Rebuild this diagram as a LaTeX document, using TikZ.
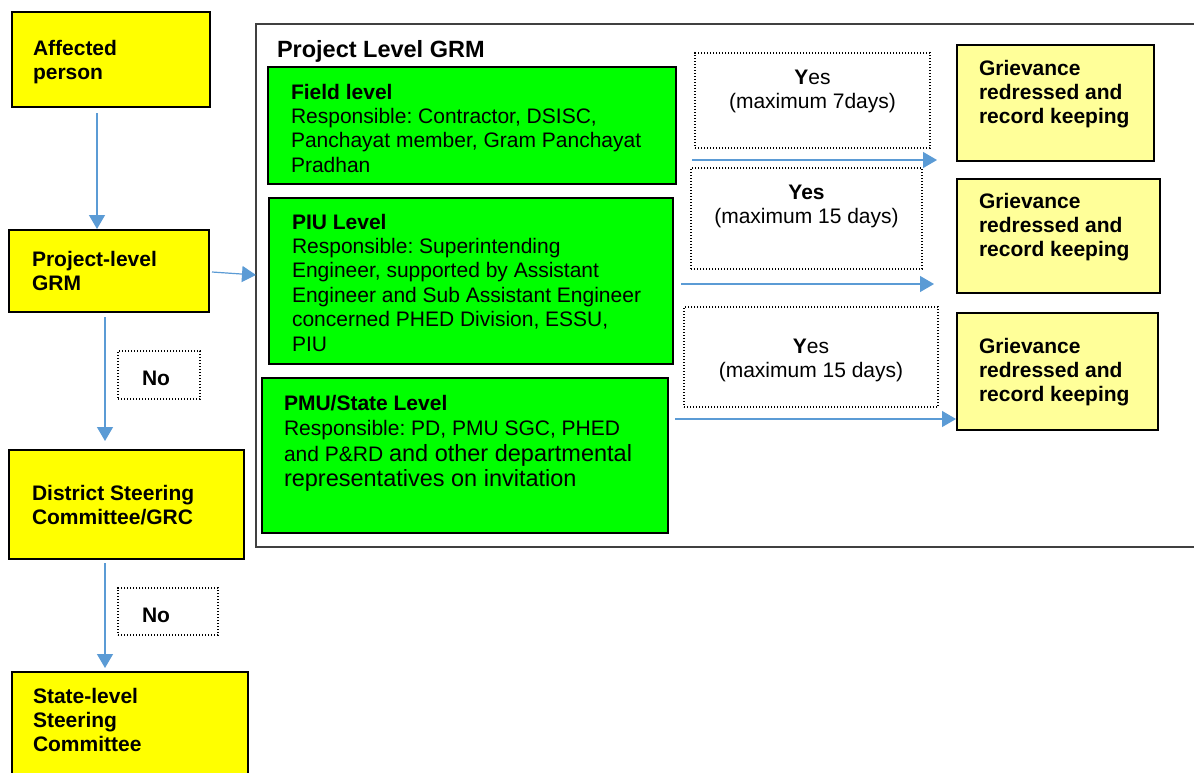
\documentclass[tikz,border=0pt]{standalone}
\usepackage{fontspec}
\setmainfont{Liberation Sans}
\usetikzlibrary{arrows.meta}
\definecolor{boxyellow}{RGB}{255,255,0}
\definecolor{boxgreen}{RGB}{0,255,0}
\definecolor{paleyellow}{RGB}{255,255,153}
\definecolor{arrowblue}{RGB}{91,155,213}
\newcommand\linesL[1]{\vtop{\halign{##\hfil\cr#1\crcr}}}
\newcommand\linesC[1]{\vtop{\halign{\hfil##\hfil\cr#1\crcr}}}
\frenchspacing
\begin{document}
\begin{tikzpicture}[x=1pt,y=-1pt,
  every node/.style={inner sep=0pt, outer sep=0pt},
  boxbase/.style={draw=black, line width=1.8pt, anchor=north west, rectangle},
  ybox/.style={boxbase, fill=boxyellow},
  gbox/.style={boxbase, fill=boxgreen},
  pbox/.style={boxbase, fill=paleyellow},
  dbox/.style={draw=black, line width=1.2pt, dash pattern=on 1.2pt off 1.8pt, anchor=north west, rectangle},
  frame/.style={draw=black!75, line width=1.5pt, anchor=north west, rectangle},
  txt/.style={anchor=base west, font=\fontsize{21}{24.4}\selectfont},
  ctxt/.style={anchor=base, font=\fontsize{21}{24.4}\selectfont},
  arr/.style={draw=arrowblue, line width=1.2pt, -{Triangle[length=14pt,width=16pt]}},
]
\fill[white] (0,0) rectangle (1194,772);
\useasboundingbox (0,0) rectangle (1194,772);

% container
\node[frame, minimum width=950pt, minimum height=523pt] (prj) at (256,24) {};
\node[txt, font=\fontsize{23.5}{26}\selectfont\bfseries] (prjt) at (277,57) {Project Level GRM};

% left column
\node[ybox, minimum width=198pt, minimum height=95pt] (ap) at (12,12) {};
\node[txt] (apt) at (33,55) {\linesL{\textbf{Affected}\cr\textbf{person}}};
\node[ybox, minimum width=200pt, minimum height=82pt] (pg) at (9,230) {};
\node[txt] (pgt) at (32,266) {\linesL{\textbf{Project-level}\cr\textbf{GRM}}};
\node[ybox, minimum width=235pt, minimum height=109pt] (ds) at (9,450) {};
\node[txt] (dst) at (32,500) {\linesL{\textbf{District Steering}\cr\textbf{Committee/GRC}}};
\node[ybox, minimum width=236pt, minimum height=130pt] (sl) at (12,672) {};
\node[txt] (slt) at (33,703) {\linesL{\textbf{State-level}\cr\textbf{Steering}\cr\textbf{Committee}}};

\node[dbox, minimum width=82pt, minimum height=48pt] (n1) at (118,351) {};
\node[ctxt] (n1t) at (156,385) {\textbf{No}};
\node[dbox, minimum width=100pt, minimum height=47pt] (n2) at (118,588) {};
\node[ctxt] (n2t) at (156,622) {\textbf{No}};

% green boxes
\node[gbox, minimum width=408pt, minimum height=117pt] (fl) at (268,67) {};
\node[txt] (flt) at (291,99) {\linesL{\textbf{Field level}\cr Responsible: Contractor, DSISC,\cr Panchayat member, Gram Panchayat\cr Pradhan}};
\node[gbox, minimum width=404pt, minimum height=166pt] (piu) at (269,198) {};
\node[txt] (piut) at (292,229) {\linesL{\textbf{PIU Level}\cr Responsible: Superintending\cr Engineer, supported by Assistant\cr Engineer and Sub Assistant Engineer\cr concerned PHED Division, ESSU,\cr PIU}};
\node[gbox, minimum width=406pt, minimum height=155pt] (pmu) at (262,378) {};
\node[txt, font=\fontsize{21}{25.6}\selectfont] (pmut) at (284,410) {\linesL{\textbf{PMU/State Level}\cr Responsible: PD, PMU SGC, PHED\cr and P\&RD {\fontsize{23.5}{26}\selectfont and other departmental}\cr {\fontsize{23.5}{26}\selectfont representatives on invitation}}};

% dotted yes boxes
\node[dbox, minimum width=235pt, minimum height=95pt] (y1) at (695,53) {};
\node[ctxt] (y1t) at (812.5,84) {\linesC{\textbf{Y}es\cr (maximum 7days)}};
\node[dbox, minimum width=231pt, minimum height=101pt] (y2) at (691,168) {};
\node[ctxt] (y2t) at (806.5,199) {\linesC{\textbf{Yes}\cr (maximum 15 days)}};
\node[dbox, minimum width=254pt, minimum height=100pt] (y3) at (684,307) {};
\node[ctxt] (y3t) at (811,353) {\linesC{\textbf{Y}es\cr (maximum 15 days)}};

% grievance boxes
\node[pbox, minimum width=197pt, minimum height=116pt] (g1) at (957,45) {};
\node[txt] (g1t) at (979,75) {\linesL{\textbf{Grievance}\cr\textbf{redressed and}\cr\textbf{record keeping}}};
\node[pbox, minimum width=203pt, minimum height=114pt] (g2) at (957,179) {};
\node[txt] (g2t) at (979,208) {\linesL{\textbf{Grievance}\cr\textbf{redressed and}\cr\textbf{record keeping}}};
\node[pbox, minimum width=201pt, minimum height=117pt] (g3) at (957,313) {};
\node[txt] (g3t) at (979,353) {\linesL{\textbf{Grievance}\cr\textbf{redressed and}\cr\textbf{record keeping}}};

% connectors
\draw[arr] ([shift={(85,6)}]ap.south west) -- ([shift={(88,-1)}]pg.north west);
\draw[arr] ([shift={(3,1)}]pg.east) -- ([shift={(0,-10.5)}]prj.west);
\draw[arr] ([shift={(96,5)}]pg.south west) -- ([shift={(96,-9)}]ds.north west);
\draw[arr] ([shift={(96,4)}]ds.south west) -- ([shift={(93,-4)}]sl.north west);
\draw[arr] ([shift={(16,93)}]fl.north east) -- ([shift={(-20,115)}]g1.north west);
\draw[arr] ([shift={(8,86)}]piu.north east) -- ([shift={(-23,105)}]g2.north west);
\draw[arr] ([shift={(7,41)}]pmu.north east) -- ([shift={(-1,106)}]g3.north west);
\end{tikzpicture}
\end{document}
